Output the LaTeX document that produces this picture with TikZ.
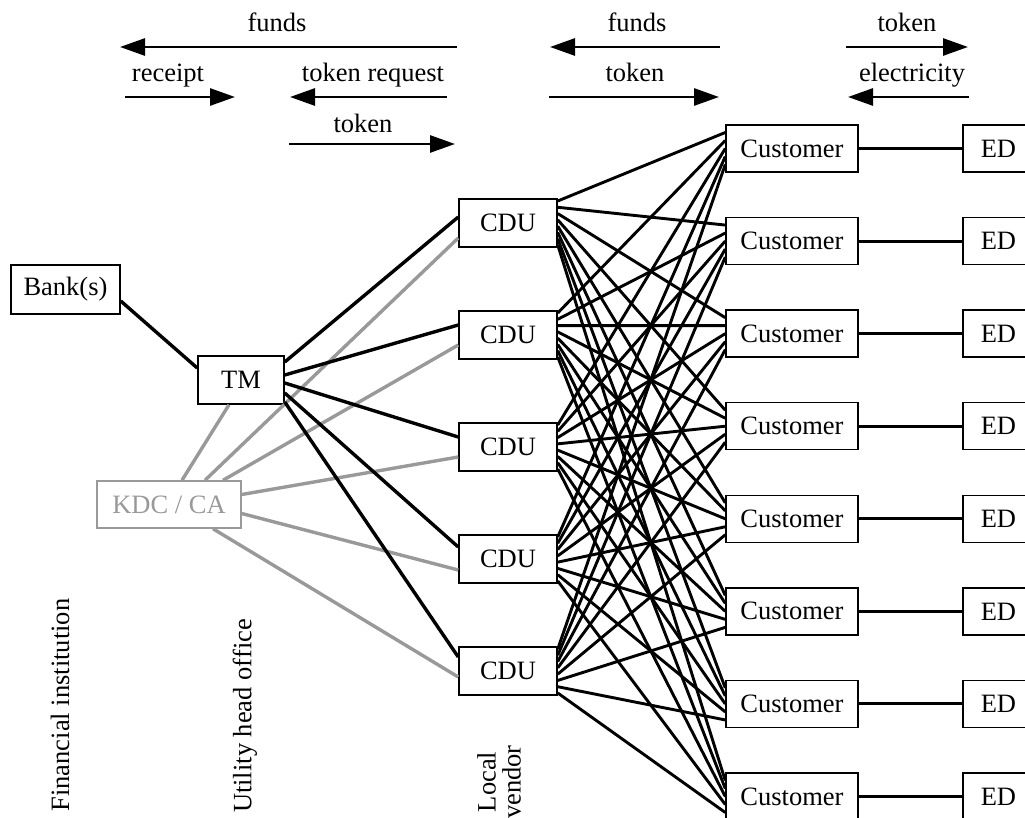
\documentclass[tikz,border=0pt]{standalone}
\usepackage{fontspec}
\setmainfont{Liberation Serif}
\usetikzlibrary{arrows.meta,calc}
\definecolor{keygray}{HTML}{999999}
\begin{document}
\begin{tikzpicture}[x=1pt,y=-1pt,
  every node/.style={font=\fontsize{26.5}{25}\selectfont},
  box/.style={draw, line width=1.5pt, fill=white, inner sep=0pt, minimum height=47pt},
  link/.style={line width=2.9pt},
  trunk/.style={line width=3.4pt},
  keyline/.style={line width=3.4pt, draw=keygray},
  flow/.style={line width=2.8pt, -{Triangle[length=25pt,width=17pt]}},
  lbl/.style={anchor=base, inner sep=0pt},
  side/.style={rotate=90, inner sep=0pt}]
\useasboundingbox (0,0) rectangle (1025,818);

% --- message flows along the top ---
\node[lbl] (lfunds) at (277,32) {funds};
\coordinate (fundsS) at (457,47); \coordinate (fundsE) at (120,47);
\node[lbl] (lreceipt) at (168,82) {receipt};
\coordinate (receiptS) at (125,97); \coordinate (receiptE) at (235,97);
\node[lbl] (lreq) at (373,82) {token request};
\coordinate (reqS) at (447,97); \coordinate (reqE) at (290,97);
\node[lbl] (ltoken) at (363,133) {token};
\coordinate (tokenS) at (289,144); \coordinate (tokenE) at (455,144);
\node[lbl] (lfundsv) at (637,32) {funds};
\coordinate (fundsvS) at (720,47); \coordinate (fundsvE) at (550,47);
\node[lbl] (ltokenv) at (635,82) {token};
\coordinate (tokenvS) at (549,97); \coordinate (tokenvE) at (719,97);
\node[lbl] (ltokenc) at (907,32) {token};
\coordinate (tokencS) at (846,47); \coordinate (tokencE) at (968,47);
\node[lbl] (lelec) at (912,82) {electricity};
\coordinate (elecS) at (969,97); \coordinate (elecE) at (848,97);
\foreach \p in {funds,receipt,req,token,fundsv,tokenv,tokenc,elec}
  \draw[flow] (\p S) -- (\p E);

% --- head office side ---
\node[box, minimum width=109pt, minimum height=49pt] (bank) at (65.5,289.5) {Bank(s)};
\node[box, minimum width=86pt, minimum height=48pt] (tm) at (241,380) {TM};
\node[box, minimum width=144pt, draw=keygray, text=keygray] (kdc) at (169,504.5) {KDC / CA};

% --- vendors, customers, meters ---
\foreach \k in {1,...,5}
  \node[box, minimum width=98pt, minimum height=48pt] (cdu\k) at (508,{223+112*(\k-1)}) {CDU};
\foreach \k in {1,...,8} {
  \node[box, minimum width=132pt] (cust\k) at (792,{148.5+92.57*(\k-1)}) {Customer};
  \node[box, anchor=west, text width=60pt, align=left, inner xsep=18pt] (ed\k) at (962,{148.5+92.57*(\k-1)}) {ED};
  \draw[link] (cust\k.east) -- (ed\k.west);
}

% --- key distribution links ---
\draw[keyline] ([xshift=13pt]kdc.north) -- ([xshift=-12pt]tm.south);
\draw[keyline] ([xshift=36pt]kdc.north) -- ([yshift=-15pt]cdu1.west);
\draw[keyline] ([xshift=54pt]kdc.north) -- ([yshift=-10pt]cdu2.west);
\draw[keyline] ([yshift=10pt]kdc.east) -- ([yshift=-10pt]cdu3.west);
\draw[keyline] ([yshift=-9pt]kdc.east) -- ([yshift=-11pt]cdu4.west);
\draw[keyline] ([xshift=44pt]kdc.south) -- ([yshift=-6pt]cdu5.west);

% --- transaction manager links ---
\draw[trunk] ([yshift=-11.5pt]bank.east) -- ([yshift=12pt]tm.west);
\draw[trunk] ([yshift=18pt]tm.east) -- ([yshift=6pt]cdu1.west);
\draw[trunk] ([yshift=5pt]tm.east) -- ([yshift=10pt]cdu2.west);
\draw[trunk] ([yshift=-3pt]tm.east) -- ([yshift=10pt]cdu3.west);
\draw[trunk] ([yshift=-13pt]tm.east) -- ([yshift=12pt]cdu4.west);
\draw[trunk] ([yshift=-22pt]tm.east) -- ([yshift=14pt]cdu5.west);

% --- every vendor reaches every customer ---
\foreach \i in {1,...,5}
  \foreach \j in {1,...,8} {
    \pgfmathsetmacro\a{22-(\j-1)*44/7}
    \pgfmathsetmacro\b{16-(\i-1)*8}
    \draw[link] ([yshift=\a pt]cdu\i.east) -- ([yshift=\b pt]cust\j.west);
  }

% --- tier captions ---
\node[side] (tfin) at (60,705) {Financial institution};
\node[side] (tuho) at (245,716) {Utility head office};
\node[side, align=center] (tvend) at (499,782) {Local\\vendor};
\end{tikzpicture}
\end{document}
